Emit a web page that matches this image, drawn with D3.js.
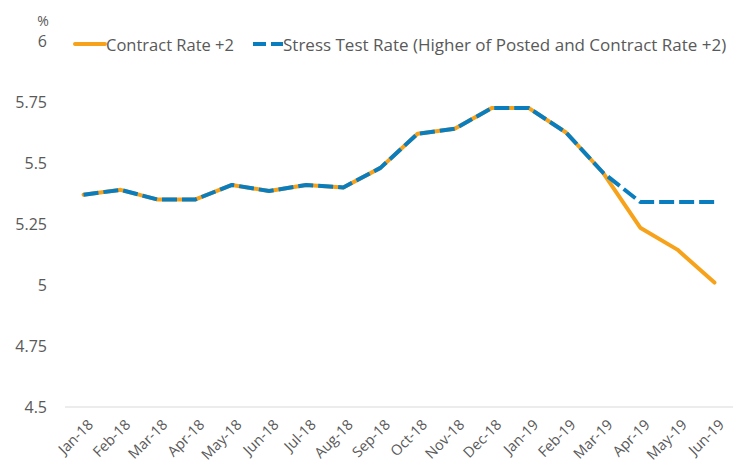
<!DOCTYPE html>
<html>
<head>
<meta charset="utf-8">
<script src="https://cdn.jsdelivr.net/npm/d3@7"></script>
<style>
  html, body { margin: 0; padding: 0; background: #ffffff; }
  svg { display: block; }
  text { font-family: "Open Sans", sans-serif; fill: #595959; }
</style>
</head>
<body>
<svg id="chart" width="739" height="464"></svg>
<script>
const months = ["Jan-18","Feb-18","Mar-18","Apr-18","May-18","Jun-18","Jul-18","Aug-18","Sep-18","Oct-18","Nov-18","Dec-18","Jan-19","Feb-19","Mar-19","Apr-19","May-19","Jun-19"];
const contractRate = [5.37,5.39,5.35,5.35,5.41,5.385,5.41,5.40,5.48,5.62,5.64,5.725,5.725,5.625,5.46,5.235,5.145,5.01];
const stressRate   = [5.37,5.39,5.35,5.35,5.41,5.385,5.41,5.40,5.48,5.62,5.64,5.725,5.725,5.625,5.46,5.34,5.34,5.34];
const yTicks = [4.5,4.75,5,5.25,5.5,5.75,6];
const seriesNames = ["Contract Rate +2","Stress Test Rate (Higher of Posted and Contract Rate +2)"];
const colors = ["#F7A21B","#0A7DBE"];

const svg = d3.select("#chart");
const plotLeft = 65, plotRight = 733, plotTop = 41, plotBottom = 407;

const x = d3.scaleBand().domain(months).range([plotLeft, plotRight]);
const y = d3.scaleLinear().domain([4.5, 6]).range([plotBottom, plotTop]);
const cx = d => x(d) + x.bandwidth() / 2;

// baseline
svg.append("line")
  .attr("x1", plotLeft).attr("x2", plotRight)
  .attr("y1", y(4.5)).attr("y2", y(4.5))
  .attr("stroke", "#d9d9d9").attr("stroke-width", 1);

// y axis labels
const yAxis = d3.axisLeft(y).tickValues(yTicks).tickSize(0).tickPadding(0)
  .tickFormat(d => d3.format("")(d));
const gy = svg.append("g").attr("transform", "translate(47,0)").call(yAxis);
gy.select(".domain").remove();
gy.selectAll("text").style("font-size", "16px").style("font-family", "'Open Sans', sans-serif").attr("fill", "#595959");

svg.append("text").attr("x", 43).attr("y", 20).attr("text-anchor", "middle")
  .attr("dominant-baseline", "central").style("font-size", "14px").text("%");

// x axis labels
const xAxis = d3.axisBottom(x).tickSize(0).tickPadding(0);
const gx = svg.append("g").attr("transform", `translate(0,${plotBottom})`).call(xAxis);
gx.select(".domain").remove();
gx.selectAll("text")
  .style("font-size", "14.5px").style("font-family", "'Open Sans', sans-serif").attr("fill", "#595959")
  .attr("text-anchor", "end")
  .attr("dy", "0.35em")
  .attr("transform", "translate(7,15) rotate(-45)")
  .attr("y", 0).attr("x", 0);

// lines
const line = d3.line().x((d, i) => cx(months[i])).y(d => y(d));
svg.append("path").datum(contractRate)
  .attr("d", line).attr("fill", "none")
  .attr("stroke", colors[0]).attr("stroke-width", 4).attr("stroke-linejoin", "round").attr("stroke-linecap", "round");
svg.append("path").datum(stressRate)
  .attr("d", line).attr("fill", "none")
  .attr("stroke", colors[1]).attr("stroke-width", 4).attr("stroke-linejoin", "round")
  .attr("stroke-dasharray", "15,5");

// legend
const lg = svg.append("g");
lg.append("line").attr("x1", 75).attr("x2", 105).attr("y1", 44).attr("y2", 44)
  .attr("stroke", colors[0]).attr("stroke-width", 4).attr("stroke-linecap", "round");
lg.append("text").attr("x", 106).attr("y", 44).attr("dominant-baseline", "central")
  .style("font-size", "16.5px").text(seriesNames[0]);
lg.append("line").attr("x1", 253).attr("x2", 283).attr("y1", 44).attr("y2", 44)
  .attr("stroke", colors[1]).attr("stroke-width", 4).attr("stroke-dasharray", "13,5");
lg.append("text").attr("x", 283).attr("y", 44).attr("dominant-baseline", "central")
  .style("font-size", "17px").text(seriesNames[1]);
</script>
</body>
</html>
